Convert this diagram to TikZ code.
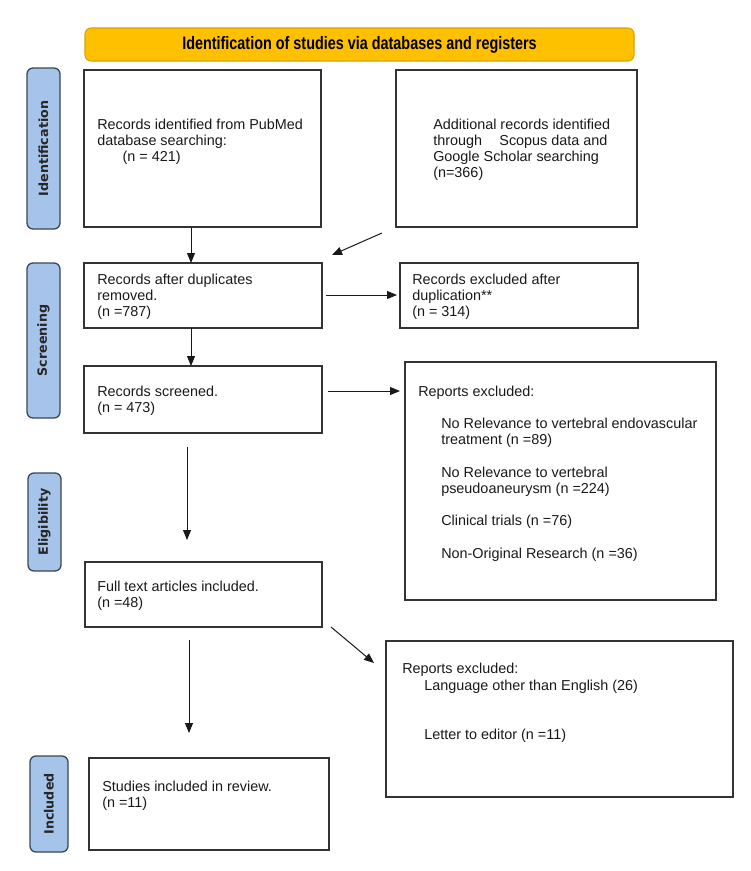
\documentclass[tikz,border=0pt]{standalone}
\usepackage{fontspec}
\setmainfont{Liberation Sans}
\newfontfamily\condfont{Liberation Sans}[FakeStretch=0.8]
\newfontfamily\sidefont{DejaVu Sans}
\usetikzlibrary{arrows.meta}
\definecolor{gold}{HTML}{FFC000}
\definecolor{goldline}{HTML}{D9A300}
\definecolor{sideblue}{HTML}{A6C4EA}
\definecolor{sideline}{HTML}{3B4656}
\definecolor{boxline}{HTML}{333333}
\tikzset{
  pbox/.style 2 args={draw=boxline, line width=0.9pt, inner sep=0pt, outer sep=0pt,
    minimum width=#1*0.75pt, minimum height=#2*0.75pt, anchor=north west},
  txt/.style={anchor=north west, inner sep=0pt, align=left,
    font=\fontsize{10.8}{12}\selectfont, text=black!90},
  side/.style 2 args={draw=sideline, fill=sideblue, rounded corners=4.5pt, line width=1pt,
    rotate=90, inner sep=0pt, minimum width=#1*0.75pt, minimum height=#2*0.75pt,
    font=\sidefont\bfseries\fontsize{9.5}{11}\selectfont, text=black!85},
  arr/.style={draw=black!90, line width=0.75pt, -{Triangle[length=7.5pt,width=6pt]}},
}
\begin{document}
\begin{tikzpicture}[x=0.75pt,y=-0.75pt]
\useasboundingbox (0,0) rectangle (750,871);

% banner
\node[draw=goldline, fill=gold, rounded corners=4.5pt, line width=0.8pt,
  minimum width=549*0.75pt, minimum height=33*0.75pt, inner sep=0pt]
  (banner) at (359.5,44.5) {\condfont\bfseries\fontsize{13.5}{15}\selectfont Identification of studies via databases and registers};

% side labels
\node[side={161}{33}] (lid) at (43.5,148.5) {Identification};
\node[side={155}{33}] (lsc) at (43.5,340.5) {Screening};
\node[side={98}{33}] (lel) at (44.5,522) {Eligibility};
\node[side={96}{38}] (lin) at (49,804) {Included};

% boxes
\node[pbox={237}{157}] (A) at (84,70) {};
\node[pbox={241}{157}] (B) at (396,70) {};
\node[pbox={238}{65}] (C) at (84,263) {};
\node[pbox={238}{65}] (D) at (400,263) {};
\node[pbox={238}{67}] (E) at (84,366) {};
\node[pbox={311}{238}] (F) at (405,362) {};
\node[pbox={237}{65}] (G) at (85,562) {};
\node[pbox={347}{156}] (H) at (386,641) {};
\node[pbox={240}{92}] (I) at (89,758) {};

% texts
\node[txt] (At) at (97,118.5) {Records identified from PubMed\\database searching:\\\hspace*{19pt}(n = 421)};
\node[txt] (Bt) at (433,118.5) {Additional records identified\\through\hspace{13pt}Scopus data and\\Google Scholar searching\\(n=366)};
\node[txt] (Ct) at (97,273.5) {Records after duplicates\\removed.\\(n =787)};
\node[txt] (Dt) at (412,273.5) {Records excluded after\\duplication**\\(n = 314)};
\node[txt] (Et) at (97,385.5) {Records screened.\\(n = 473)};
\node[txt] (Ft) at (418,385.5) {Reports excluded:};
\node[txt, font=\fontsize{10.8}{12.2}\selectfont] (Fi) at (441,417.5) {No Relevance to vertebral endovascular\\treatment (n =89)\\[12.2pt]No Relevance to vertebral\\pseudoaneurysm (n =224)\\[12.2pt]Clinical trials (n =76)\\[12.2pt]Non-Original Research (n =36)};
\node[txt] (Gt) at (97,580.5) {Full text articles included.\\(n =48)};
\node[txt] (Ht) at (402,662.5) {Reports excluded:};
\node[txt] (Hl) at (424,679.5) {Language other than English (26)};
\node[txt] (Hm) at (424,728.5) {Letter to editor (n =11)};
\node[txt] (It) at (102,780.5) {Studies included in review.\\(n =11)};

% connector helpers
\coordinate (colA) at (191,0);
\coordinate (colE) at (187,0);
\coordinate (colG) at (189,0);
\coordinate (row1) at (0,295);
\coordinate (row2) at (0,391);
\coordinate (bs) at (382,233);
\coordinate (be) at (332,255);
\coordinate (gs) at (331,627);
\coordinate (ge) at (374,663);

% connectors
\draw[arr] (A.south -| colA) -- (C.north -| colA);
\draw[arr] (bs) -- (be);
\draw[arr, shorten <=3pt, shorten >=2.25pt] (C.east |- row1) -- (D.west |- row1);
\draw[arr] (C.south -| colA) -- (E.north -| colA);
\draw[arr, shorten <=4.5pt, shorten >=3.75pt] (E.east |- row2) -- (F.west |- row2);
\draw[arr, shorten <=10.5pt, shorten >=16.5pt] (E.south -| colE) -- (G.north -| colE);
\draw[arr] (gs) -- (ge);
\draw[arr, shorten <=9.75pt, shorten >=18.75pt] (G.south -| colG) -- (I.north -| colG);
\end{tikzpicture}
\end{document}
